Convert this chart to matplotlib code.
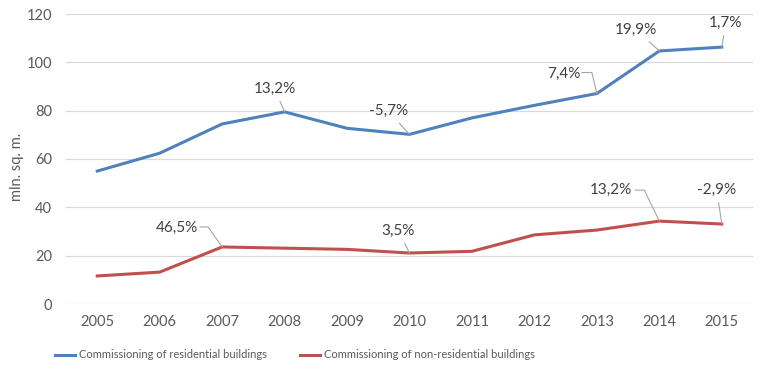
import matplotlib
matplotlib.use("Agg")
import matplotlib.pyplot as plt
from matplotlib.lines import Line2D
from matplotlib.transforms import IdentityTransform

years = ["2005", "2006", "2007", "2008", "2009", "2010", "2011", "2012", "2013", "2014", "2015"]
residential = [55.0, 62.4, 74.5, 79.5, 72.7, 70.2, 77.0, 82.2, 87.1, 104.7, 106.3]
non_residential = [11.6, 13.2, 23.6, 23.1, 22.6, 21.1, 21.8, 28.6, 30.6, 34.3, 33.1]
yticks = [0, 20, 40, 60, 80, 100, 120]

res_labels = [(3, "13,2%"), (5, "-5,7%"), (8, "7,4%"), (9, "19,9%"), (10, "1,7%")]
nonres_labels = [(2, "46,5%"), (5, "3,5%"), (9, "13,2%"), (10, "-2,9%")]

plt.rcParams['font.family'] = ['Lato', 'DejaVu Sans']

fig = plt.figure(figsize=(7.62, 3.81), dpi=100)
ax = fig.add_axes([66/762, 1-304/381, (753-66)/762, (304-14)/381])

x = list(range(len(years)))
blue = '#4F81BD'
red = '#C0504D'
l1, = ax.plot(x, residential, color=blue, lw=2.2, solid_joinstyle='miter', label='Commissioning of residential buildings', zorder=3)
l2, = ax.plot(x, non_residential, color=red, lw=2.2, solid_joinstyle='miter', label='Commissioning of non-residential buildings', zorder=3)

ax.set_xlim(-0.5, len(years) - 0.5)
ax.set_ylim(0, 120)
ax.set_yticks(yticks)
ax.set_xticks(x)
ax.set_xticklabels(years)
ax.grid(axis='y', color='#D9D9D9', lw=0.9)
ax.set_axisbelow(True)
for s in ax.spines.values():
    s.set_visible(False)
ax.tick_params(length=0, labelsize=10.5, colors='#595959', pad=8)
ax.tick_params(axis='y', pad=10)

fig.text(17/762, 1-167/381, 'mln. sq. m.', rotation=90, ha='center', va='center',
         fontsize=10.5, color='#595959')

# (text offset dx, dy in px, bent-leader vertices offsets or None)
offsets_res = {3: (-10, 23, None), 5: (-21, 23, None),
               8: (-33, 20, [(-15, 21), (-5, 21)]),
               9: (-23, 21, None), 10: (4, 24, None)}
offsets_non = {2: (-45, 19, [(-22, 20), (-14, 20)]), 5: (-11, 22, None),
               9: (-48, 31, [(-24, 31), (-15, 31)]), 10: (-5, 34, None)}

lead_col = '#A6A6A6'

def annot(series, idx, text, off):
    dx, dy, bent = off
    if bent is None:
        ap = dict(arrowstyle='-', color=lead_col, lw=0.8, shrinkA=2, shrinkB=0)
        ax.annotate(text, xy=(idx, series[idx]), xytext=(dx, dy), textcoords='offset pixels',
                    ha='center', va='center', fontsize=11, color='#404040', arrowprops=ap, zorder=4)
    else:
        ax.annotate(text, xy=(idx, series[idx]), xytext=(dx, dy), textcoords='offset pixels',
                    ha='center', va='center', fontsize=11, color='#404040', zorder=4)
        px, py = ax.transData.transform((idx, series[idx]))
        xs = [px + v[0] for v in bent] + [px]
        ys = [py + v[1] for v in bent] + [py]
        fig.add_artist(Line2D(xs, ys, transform=IdentityTransform(), color=lead_col, lw=0.8, zorder=4))

for i, t in res_labels:
    annot(residential, i, t, offsets_res[i])
for i, t in nonres_labels:
    annot(non_residential, i, t, offsets_non[i])

fig.legend(handles=[l1, l2], loc='center left', bbox_to_anchor=(55/762, 1-355/381), ncol=2,
           frameon=False, handlelength=1.8, handletextpad=0.4,
           columnspacing=2.9, borderpad=0, borderaxespad=0, labelcolor='#595959',
           prop={'family': ['Lato'], 'size': 8})

fig.savefig('out.png', dpi=100)
